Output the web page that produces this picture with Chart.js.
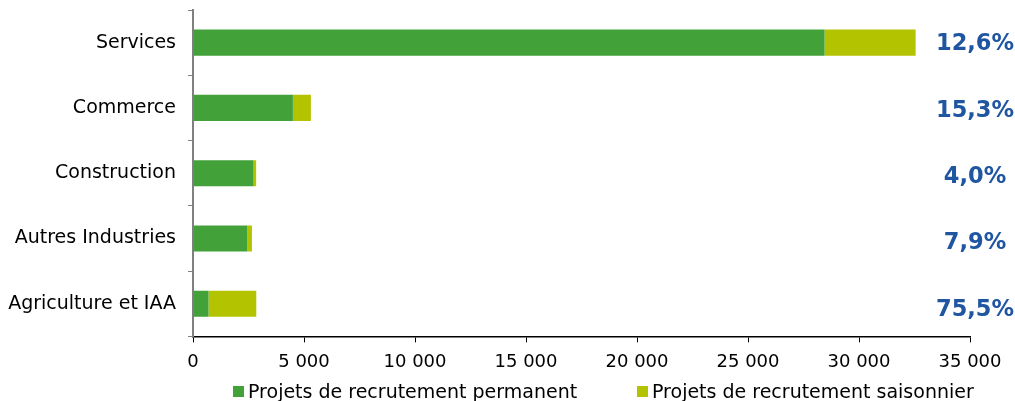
<!DOCTYPE html>
<html>
<head>
<meta charset="utf-8">
<script src="https://cdn.jsdelivr.net/npm/chart.js@4/dist/chart.umd.min.js"></script>
<style>
  html,body{margin:0;padding:0;background:#fff;}
  #wrap{width:1015px;height:401px;position:relative;}
</style>
</head>
<body>
<div id="wrap"><canvas id="cv"></canvas></div>
<script>
/* ---------- data ---------- */
const sectors    = ['Services','Commerce','Construction','Autres Industries','Agriculture et IAA'];
const permanent  = [28450, 4500, 2730, 2450, 700];
const seasonal   = [4100, 810, 115, 205, 2150];
const shareSeas  = ['12,6%','15,3%','4,0%','7,9%','75,5%'];
const xTicksMax  = 35000;

/* ---------- helpers ---------- */
const FONT   = "'DejaVu Sans', Verdana, sans-serif";
const COLORS = { perm:'#43A13A', seas:'#B3C300', pct:'#1F55A1', axis:'#808080' };
const fmt    = v => String(v).replace(/\B(?=(\d{3})+(?!\d))/g,' ');

/* percent labels on the right of each row */
const pctLabels = {
  id:'pctLabels',
  afterDraw(chart){
    const {ctx, scales:{y}, chartArea} = chart;
    ctx.save();
    ctx.font = 'bold 22.5px '+FONT;
    ctx.fillStyle = COLORS.pct;
    ctx.textAlign = 'center';
    ctx.textBaseline = 'middle';
    shareSeas.forEach((t,i)=>{
      ctx.fillText(t, chartArea.right + 5, y.getPixelForValue(i) + 2 + i*1);
    });
    ctx.restore();
  }
};

/* legend drawn under the axis */
const bottomLegend = {
  id:'bottomLegend',
  afterDraw(chart){
    const {ctx} = chart;
    const xs = [233, 637];
    ctx.save();
    ctx.font = '19px '+FONT;
    ctx.textBaseline = 'middle';
    chart.data.datasets.forEach((d,i)=>{
      ctx.fillStyle = d.backgroundColor;
      ctx.fillRect(xs[i], 386, 11, 11);
      ctx.fillStyle = '#000';
      ctx.fillText(d.label, xs[i] + 15, 393);
    });
    ctx.restore();
  }
};

new Chart(document.getElementById('cv'),{
  type:'bar',
  data:{
    labels:sectors,
    datasets:[
      { label:'Projets de recrutement permanent', data:permanent, backgroundColor:COLORS.perm,
        barPercentage:0.4, categoryPercentage:1 },
      { label:'Projets de recrutement saisonnier', data:seasonal, backgroundColor:COLORS.seas,
        barPercentage:0.4, categoryPercentage:1 }
    ]
  },
  options:{
    indexAxis:'y',
    responsive:true, maintainAspectRatio:false, animation:false,
    layout:{ padding:{ top:10, right:45, left:8, bottom:19 } },
    scales:{
      x:{
        stacked:true, min:0, max:xTicksMax,
        ticks:{ stepSize:5000, color:'#000', font:{family:FONT,size:18}, padding:9,
                callback:v=>fmt(v) },
        grid:{ drawOnChartArea:false, drawTicks:true, tickLength:6, color:'#000' },
        border:{ color:'#000', width:1.5 }
      },
      y:{
        stacked:true,
        afterFit:s=>{ s.width = 185; s.paddingTop = 0; s.paddingBottom = 0; },
        ticks:{ color:'#000', font:{family:FONT,size:19}, padding:12 },
        grid:{ drawOnChartArea:false, drawTicks:true, tickLength:5, color:COLORS.axis, offset:true },
        border:{ color:COLORS.axis, width:2 }
      }
    },
    plugins:{
      tooltip:{ enabled:false },
      legend:{ display:false }
    }
  },
  plugins:[pctLabels, bottomLegend]
});
</script>
</body>
</html>
